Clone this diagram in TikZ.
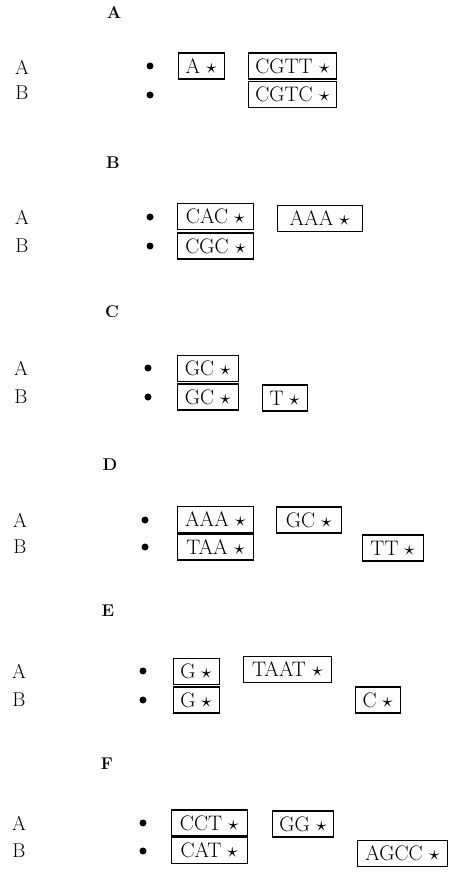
\documentclass[tikz,border=0pt]{standalone}
\usepackage{fontspec}
\usepackage{unicode-math}
\begin{document}
\begin{tikzpicture}[x=1pt,y=-1pt,
  seq/.style={draw, line width=1.4pt, minimum height=26pt, inner sep=0pt,
    anchor=west, font=\fontsize{21}{25}\selectfont},
  rowlab/.style={font=\fontsize{20}{24}\selectfont, inner sep=0pt},
  head/.style={font=\fontsize{17}{20}\selectfont\bfseries, inner sep=0pt},
  dot/.style={circle, fill=black, inner sep=0pt, minimum size=7pt}]
\useasboundingbox (0,0) rectangle (448,872);

% ---- A ----
\node[head] (hA) at (114,13) {A};
\node[rowlab] (lA1) at (22,67) {A};
\node[rowlab] (lA2) at (22,93) {B};
\node[dot] (dA1) at (150,66) {};
\node[dot] (dA2) at (150,95) {};
\node[seq, minimum width=46pt] (A1a) at (178,66) {A $\star$};
\node[seq, minimum width=88pt] (A1b) at (248,66) {CGTT $\star$};
\node[seq, minimum width=88pt] (A2b) at (248,94.5) {CGTC $\star$};

% ---- B ----
\node[head] (hB) at (113,163) {B};
\node[rowlab] (lB1) at (22,217) {A};
\node[rowlab] (lB2) at (22,246) {B};
\node[dot] (dB1) at (150,217) {};
\node[dot] (dB2) at (150,246) {};
\node[seq, minimum width=76pt] (B1a) at (177,216.5) {CAC $\star$};
\node[seq, minimum width=85pt] (B1b) at (277,218.5) {AAA $\star$};
\node[seq, minimum width=76pt] (B2a) at (177,246) {CGC $\star$};

% ---- C ----
\node[head] (hC) at (112,312) {C};
\node[rowlab] (lC1) at (21,368) {A};
\node[rowlab] (lC2) at (21,397) {B};
\node[dot] (dC1) at (148,368) {};
\node[dot] (dC2) at (148,397) {};
\node[seq, minimum width=61pt] (C1a) at (177,368.5) {GC $\star$};
\node[seq, minimum width=61pt] (C2a) at (177,397) {GC $\star$};
\node[seq, minimum width=45pt] (C2b) at (262,398) {T $\star$};

% ---- D ----
\node[head] (hD) at (110,465) {D};
\node[rowlab] (lD1) at (20,520) {A};
\node[rowlab] (lD2) at (20,547) {B};
\node[dot] (dD1) at (145,520) {};
\node[dot] (dD2) at (145,547) {};
\node[seq, minimum width=76pt] (D1a) at (177,519.5) {AAA $\star$};
\node[seq, minimum width=65pt] (D1b) at (276,520) {GC $\star$};
\node[seq, minimum width=76pt] (D2a) at (177,547) {TAA $\star$};
\node[seq, minimum width=61pt] (D2b) at (362,548) {TT $\star$};

% ---- E ----
\node[head] (hE) at (108,611) {E};
\node[rowlab] (lE1) at (19,671) {A};
\node[rowlab] (lE2) at (19,700) {B};
\node[dot] (dE1) at (143,671) {};
\node[dot] (dE2) at (143,700) {};
\node[seq, minimum width=46pt] (E1a) at (173,671.5) {G $\star$};
\node[seq, minimum width=88pt] (E1b) at (243,669.5) {TAAT $\star$};
\node[seq, minimum width=46pt] (E2a) at (173,700) {G $\star$};
\node[seq, minimum width=45pt] (E2b) at (355,700) {C $\star$};

% ---- F ----
\node[head] (hF) at (107,764) {F};
\node[rowlab] (lF1) at (19,823) {A};
\node[rowlab] (lF2) at (19,851) {B};
\node[dot] (dF1) at (143,823) {};
\node[dot] (dF2) at (143,851) {};
\node[seq, minimum width=76pt] (F1a) at (171,823) {CCT $\star$};
\node[seq, minimum width=61pt] (F1b) at (272,824) {GG $\star$};
\node[seq, minimum width=76pt] (F2a) at (171,850.5) {CAT $\star$};
\node[seq, minimum width=90pt] (F2b) at (357,853.5) {AGCC $\star$};
\end{tikzpicture}
\end{document}
